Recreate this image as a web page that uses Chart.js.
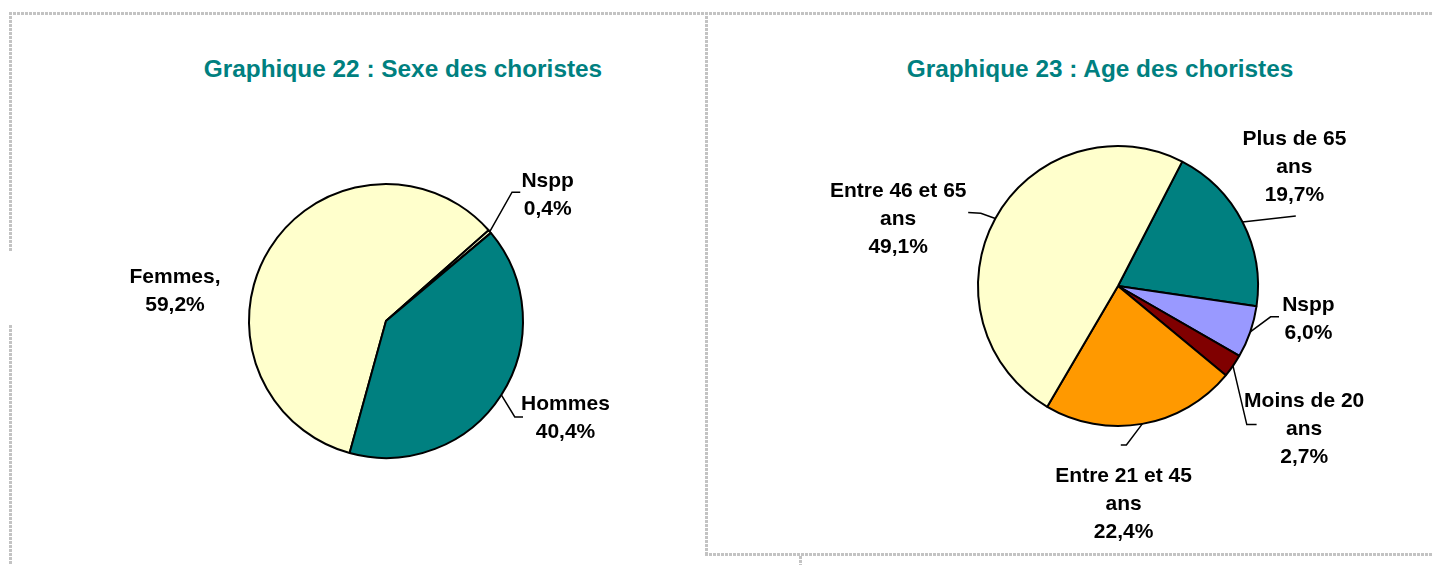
<!DOCTYPE html>
<html>
<head>
<meta charset="utf-8">
<script src="https://cdn.jsdelivr.net/npm/chart.js@4/dist/chart.umd.min.js"></script>
<style>
  html, body { margin: 0; padding: 0; background: #fff; }
  body { width: 1433px; height: 565px; position: relative; overflow: hidden; font-family: 'Liberation Sans', Arial, sans-serif; }
  .dots-h, .dots-v { position: absolute; }
  .dots-h { height: 3px; background: repeating-linear-gradient(to right, #c3c3c3 0 3px, transparent 3px 4px); }
  .dots-v { width: 3px; background: repeating-linear-gradient(to bottom, #c3c3c3 0 3px, transparent 3px 4px); }
  .titre { position: absolute; top: 56px; font-weight: bold; font-size: 23px; color: #008080; white-space: nowrap; transform: translateX(-50%) scaleX(1.06); }
  .box { position: absolute; }
</style>
</head>
<body>
  <!-- cadres pointillés -->
  <div class="dots-h" style="left:9px; top:12px; width:1424px;"></div>
  <div class="dots-v" style="left:9px; top:12px; height:240px;"></div>
  <div class="dots-v" style="left:9px; top:325px; height:240px;"></div>
  <div class="dots-v" style="left:705px; top:12px; height:544px;"></div>
  <div class="dots-h" style="left:705px; top:553px; width:728px;"></div>
  <div class="dots-v" style="left:799px; top:556px; height:9px;"></div>

  <div class="titre" id="titreSexe" style="left:403px;">Graphique 22 : Sexe des choristes</div>
  <div class="titre" id="titreAge" style="left:1100px;">Graphique 23 : Age des choristes</div>

  <div class="box" style="left:10px; top:90px; width:690px; height:460px;"><canvas id="sexeChart"></canvas></div>
  <div class="box" style="left:710px; top:90px; width:720px; height:460px;"><canvas id="ageChart"></canvas></div>

<script>
// Graphique 22 : sexe
const sexeCategories = ['Femmes', 'Nspp', 'Hommes'];
const sexeValues = [59.2, 0.4, 40.4];
const sexeLabelLines = [['Femmes,'], ['Nspp'], ['Hommes']];

// Graphique 23 : âge
const ageCategories = ['Plus de 65 ans', 'Nspp', 'Moins de 20 ans', 'Entre 21 et 45 ans', 'Entre 46 et 65 ans'];
const ageValues = [19.7, 6.0, 2.7, 22.4, 49.1];
const ageLabelLines = [['Plus de 65', 'ans'], ['Nspp'], ['Moins de 20', 'ans'], ['Entre 21 et 45', 'ans'], ['Entre 46 et 65', 'ans']];

const sexeColors = ['#FFFFCC', '#FFFFCC', '#008080'];
const ageColors = ['#008080', '#9999FF', '#800000', '#FF9900', '#FFFFCC'];

// placement des étiquettes (en rayons, par rapport au centre) : centre du texte, coude et bout du trait
const sexePlacement = [
    { tx: -1.54, ty: -0.22 },
    { tx: 1.18, ty: -0.92, elbow: [0.92, -0.94], end: [0.98, -0.94] },
    { tx: 1.31, ty: 0.71, elbow: [0.94, 0.70], end: [1.0, 0.70] }
];
const agePlacement = [
    { tx: 1.26, ty: -0.85, elbow: [1.27, -0.50], end: [1.27, -0.50] },
    { tx: 1.36, ty: 0.24, elbow: [1.09, 0.22], end: [1.15, 0.22] },
    { tx: 1.33, ty: 1.02, elbow: [0.92, 0.99], end: [0.99, 0.99] },
    { tx: 0.04, ty: 1.56, elbow: [0.06, 1.135], end: [0.02, 1.135] },
    { tx: -1.57, ty: -0.48, elbow: [-0.98, -0.52], end: [-1.07, -0.525] }
];

function fmtPct(v) {
    return v.toFixed(1).replace('.', ',') + '%';
}

const etiquettes = {
    id: 'etiquettes',
    afterDatasetsDraw(chart, args, opts) {
        const ctx = chart.ctx;
        const meta = chart.getDatasetMeta(0);
        const values = chart.data.datasets[0].data;
        ctx.save();
        ctx.font = 'bold 21px "Liberation Sans", Arial, sans-serif';
        ctx.fillStyle = '#000';
        ctx.strokeStyle = '#000';
        ctx.lineWidth = 1.5;
        ctx.textAlign = 'center';
        ctx.textBaseline = 'middle';
        meta.data.forEach((arc, i) => {
            const p = arc.getProps(['x', 'y', 'startAngle', 'endAngle', 'outerRadius'], true);
            const r = p.outerRadius;
            const mid = (p.startAngle + p.endAngle) / 2;
            const place = opts.placement[i];
            if (place.elbow) {
                ctx.beginPath();
                ctx.moveTo(p.x + r * Math.cos(mid), p.y + r * Math.sin(mid));
                ctx.lineTo(p.x + r * place.elbow[0], p.y + r * place.elbow[1]);
                ctx.lineTo(p.x + r * place.end[0], p.y + r * place.end[1]);
                ctx.stroke();
            }
            const lines = opts.lines[i].concat([fmtPct(values[i])]);
            const lh = 28;
            const cx = p.x + r * place.tx;
            const cy = p.y + r * place.ty;
            lines.forEach((t, k) => {
                ctx.fillText(t, cx, cy + (k - (lines.length - 1) / 2) * lh);
            });
        });
        ctx.restore();
    }
};

function pieOptions(rotation, pad, placement, lines) {
    return {
        responsive: true,
        maintainAspectRatio: false,
        animation: false,
        rotation: rotation,
        layout: { padding: pad },
        plugins: {
            legend: { display: false },
            tooltip: { enabled: false },
            etiquettes: { placement: placement, lines: lines }
        }
    };
}

// sexe : centre (386,321), rayon 137
new Chart(document.getElementById('sexeChart'), {
    type: 'pie',
    data: {
        labels: sexeCategories,
        datasets: [{
            data: sexeValues,
            backgroundColor: sexeColors,
            borderColor: '#000',
            borderWidth: 2
        }]
    },
    options: pieOptions(195.4, { left: 238, right: 176, top: 93, bottom: 91 }, sexePlacement, sexeLabelLines),
    plugins: [etiquettes]
});

// âge : centre (1118,287), rayon 141
new Chart(document.getElementById('ageChart'), {
    type: 'pie',
    data: {
        labels: ageCategories,
        datasets: [{
            data: ageValues,
            backgroundColor: ageColors,
            borderColor: '#000',
            borderWidth: 2
        }]
    },
    options: pieOptions(27.3, { left: 266, right: 170, top: 55, bottom: 123 }, agePlacement, ageLabelLines),
    plugins: [etiquettes]
});
</script>
</body>
</html>
